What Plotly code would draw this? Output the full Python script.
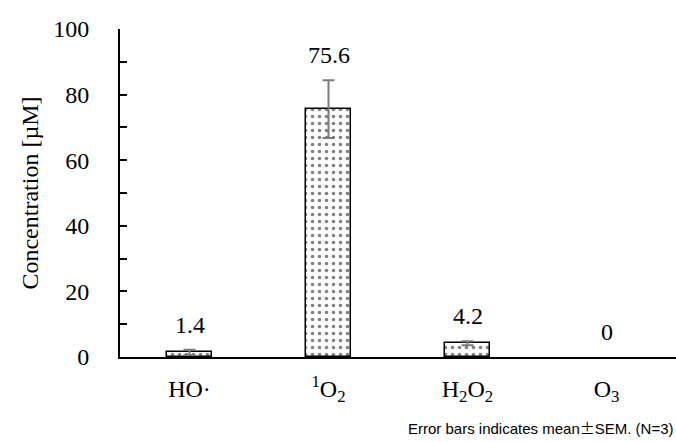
import plotly.graph_objects as go

categories = ["HO·", "<sup>1</sup>O<sub>2</sub>", "H<sub>2</sub>O<sub>2</sub>", "O<sub>3</sub>"]
values = [1.4, 75.6, 4.2, 0]
errors = [0.8, 8.8, 0.6, 0]
value_labels = ["1.4", "75.6", "4.2", "0"]

SERIF = "Liberation Serif, Times New Roman, serif"

# zero-valued bars are not drawn (nothing visible in the reference)
bar_y = [v if v > 0 else None for v in values]
bar_err = [e if v > 0 else None for v, e in zip(values, errors)]

fig = go.Figure()
fig.add_trace(go.Bar(
    x=categories, y=bar_y,
    width=0.32,
    marker=dict(
        color="white",
        line=dict(color="black", width=1.5),
        pattern=dict(shape=".", fgcolor="black", bgcolor="white", size=7, solidity=0.2),
    ),
    error_y=dict(type="data", array=bar_err, visible=True, color="#7a7a7a", thickness=2, width=6),
    showlegend=False,
))

for c, v, e, t in zip(categories, values, errors, value_labels):
    fig.add_annotation(x=c, y=v + e, text=t, showarrow=False, yanchor="bottom", yshift=10,
                       font=dict(family=SERIF, size=24, color="black"))

fig.add_annotation(xref="paper", yref="paper", x=1.0, y=-0.216, xanchor="right", yanchor="middle",
                   text="Error bars indicates mean<span style=\"font-family:'Noto Sans CJK JP'\">±</span>SEM. (N=3)",
                   showarrow=False, font=dict(family="Arial, Liberation Sans, sans-serif", size=15, color="black"))

fig.update_layout(
    width=676, height=442,
    margin=dict(l=120, r=0, t=29, b=85),
    paper_bgcolor="white", plot_bgcolor="white",
    font=dict(family=SERIF, size=24, color="black"),
    bargap=0,
)
fig.update_xaxes(
    range=[-0.5, 3.5], showline=True, linecolor="black", linewidth=2,
    ticks="", showgrid=False, zeroline=False,
    tickfont=dict(family=SERIF, size=24), ticklabelstandoff=9,
)
fig.update_yaxes(
    range=[0, 100], showline=True, linecolor="black", linewidth=2,
    ticks="inside", ticklen=7, tickwidth=1.5, tickcolor="black",
    showgrid=False, zeroline=False,
    tickvals=[0, 10, 20, 30, 40, 50, 60, 70, 80, 90, 100],
    ticktext=["0", "", "20", "", "40", "", "60", "", "80", "", "100"],
    tickfont=dict(family=SERIF, size=24), ticklabelstandoff=24,
    title=dict(text="Concentration [µM]", font=dict(family=SERIF, size=24), standoff=8),
)

fig.write_html("out.html")
